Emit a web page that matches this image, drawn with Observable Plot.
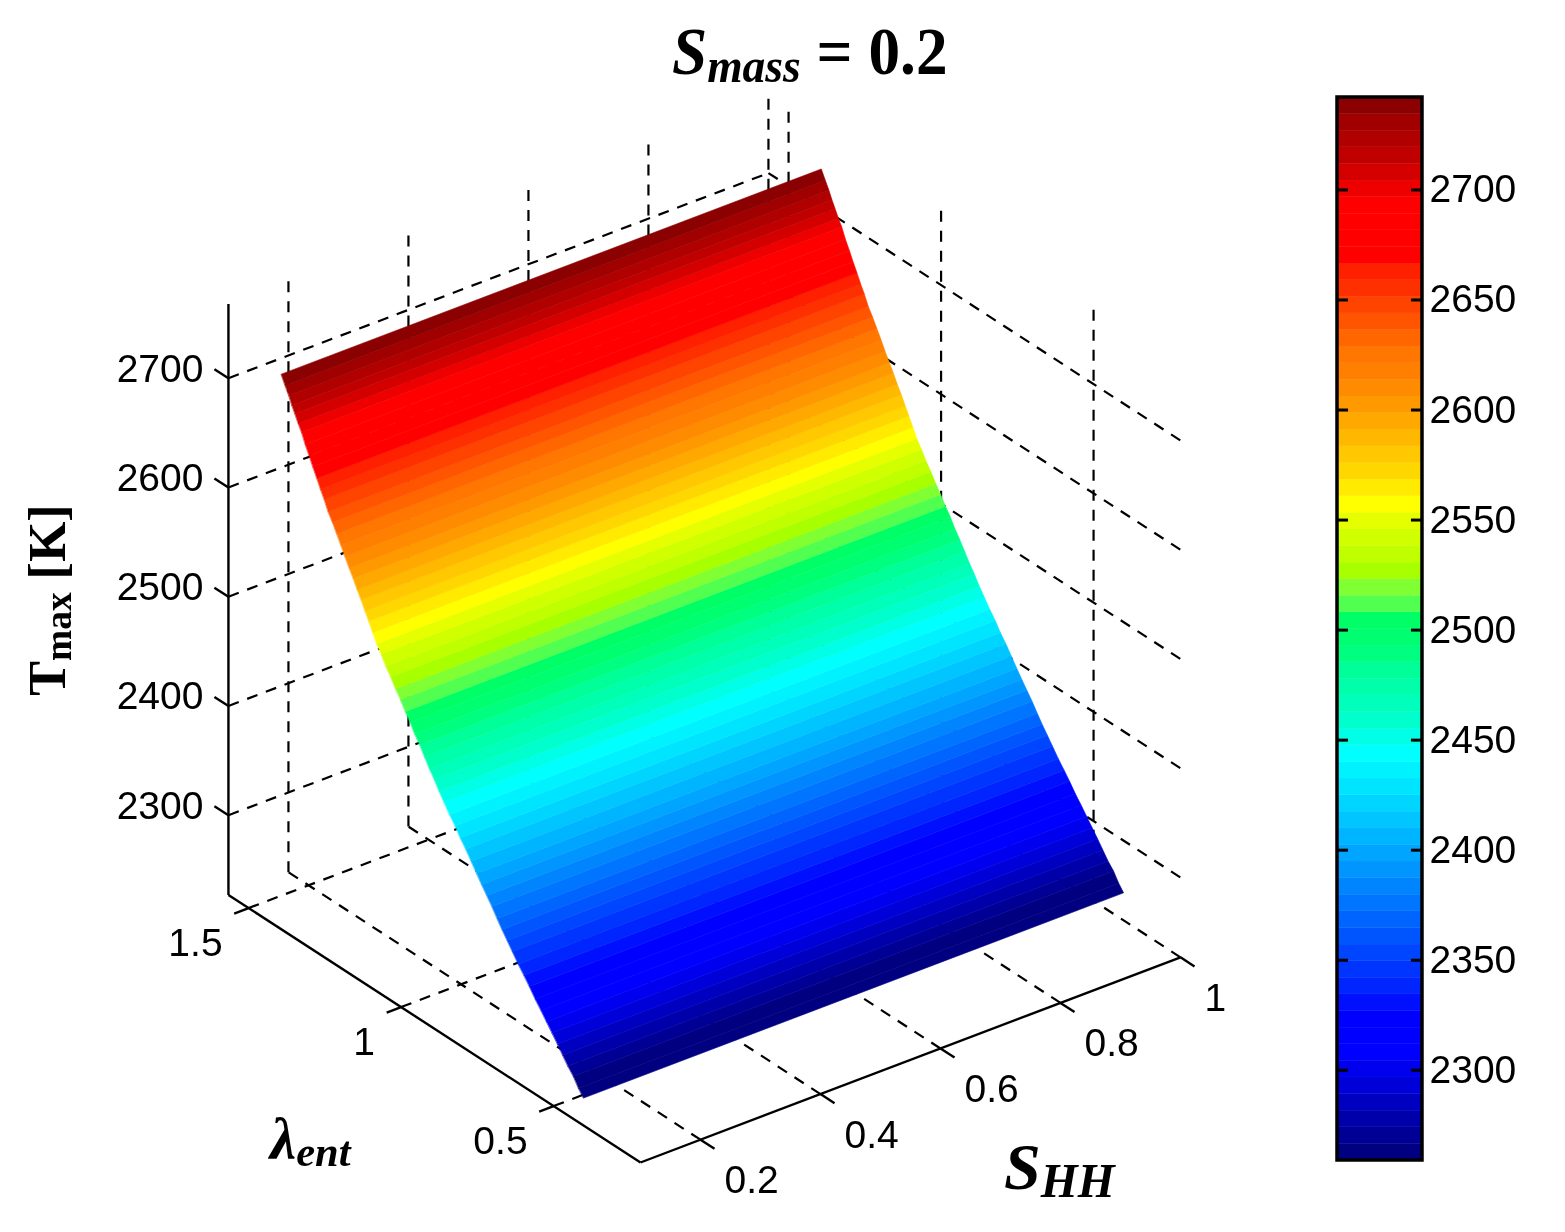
<!DOCTYPE html>
<html>
<head>
<meta charset="utf-8">
<script src="https://cdn.jsdelivr.net/npm/d3@7"></script>
<script src="https://cdn.jsdelivr.net/npm/@observablehq/plot@0.6"></script>
<style>
  html, body { margin: 0; padding: 0; background: #fff; }
  #page { position: relative; width: 1565px; height: 1232px; overflow: hidden; filter: blur(0.45px); }
  #page svg { position: absolute; top: 0; }
  .lab { position: absolute; font-family: "Liberation Serif", serif; font-weight: bold; color: #000; white-space: nowrap; line-height: 1; }
  .lab i { font-style: italic; }
  .lab sub { font-size: 0.72em; vertical-align: baseline; position: relative; top: 0.16em; }
</style>
</head>
<body>
<div id="page">
  <div class="lab" id="title" style="left:672px;top:17px;font-size:68px;transform-origin:left top;transform:scaleX(0.93);"><i>S<sub>mass</sub></i> = 0.2</div>
  <div class="lab" id="ylab" style="left:48px;top:600px;font-size:52px;transform:translate(-50%,-50%) rotate(-90deg);">T<sub>max</sub> [K]</div>
  <div class="lab" id="lam" style="left:270px;top:1110px;font-size:59px;"><i>λ<sub>ent</sub></i></div>
  <div class="lab" id="shh" style="left:1004px;top:1134px;font-size:66px;"><i>S<sub>HH</sub></i></div>
</div>
<script>
// Axis ticks
const sTicks = [0.2, 0.4, 0.6, 0.8, 1];
const lambdaTicks = [0.5, 1, 1.5];
const tTicks = [2300, 2400, 2500, 2600, 2700];
const barTicks = [2300, 2350, 2400, 2450, 2500, 2550, 2600, 2650, 2700];

// Axis box limits
const sRange = [0.1, 1];
const lambdaRange = [0.215, 1.566];
const tRange = [2227, 2768];
const barRange = [2259, 2742];

// Surface: S_HH columns, lambda_ent rows and Tmax at each row (Tmax barely depends on S_HH)
const surfaceS = [0.1, 1];
const surfaceLambda = [
  0.400, 0.416, 0.433, 0.451, 0.468, 0.485, 0.503, 0.521, 0.539, 0.558, 0.577,
  0.595, 0.614, 0.633, 0.650, 0.667, 0.683, 0.700, 0.717, 0.734, 0.750, 0.768,
  0.786, 0.804, 0.821, 0.839, 0.857, 0.873, 0.889, 0.905, 0.921, 0.937, 0.953,
  0.968, 0.984, 1.000, 1.016, 1.032, 1.048, 1.063, 1.078, 1.091, 1.104, 1.116,
  1.129, 1.142, 1.155, 1.168, 1.182, 1.195, 1.209, 1.223, 1.237, 1.250, 1.262,
  1.274, 1.287, 1.299, 1.312, 1.324, 1.335, 1.346, 1.356, 1.366, 1.378, 1.391
];
const surfaceT = [
  2252, 2258, 2266, 2272, 2279, 2286, 2293, 2300, 2307, 2314, 2322,
  2329, 2336, 2344, 2351, 2358, 2365, 2373, 2380, 2387, 2394, 2402,
  2410, 2417, 2425, 2432, 2440, 2447, 2455, 2462, 2470, 2478, 2485,
  2493, 2500, 2508, 2515, 2523, 2530, 2538, 2545, 2553, 2561, 2568,
  2576, 2583, 2591, 2598, 2606, 2614, 2622, 2630, 2637, 2646, 2653,
  2661, 2669, 2677, 2685, 2694, 2700, 2707, 2713, 2720, 2727, 2735
];

// Colormap, bottom band to top band
const colormap = [
  "#000080","#000095","#0000AA","#0000C0","#0000D8","#0000EE","#0000FF","#0000FF",
  "#0000FF","#0010FF","#0025FF","#0035FF","#0045FF","#0055FF","#0065FF","#0075FF",
  "#0085FF","#0095FF","#00A5FF","#00B5FF","#00C5FF","#00D5FF","#00E5FF","#00F2FF",
  "#00FFFF","#00FFE6","#00FFCC","#00FFBB","#00FFAA","#00FF99","#00FF80","#00FF70",
  "#00FF66","#50FF50","#80FF33","#A8FF00","#BFFF00","#D0FF00","#E6FF00","#FFFF00",
  "#FFEA00","#FFD700","#FFC800","#FFB800","#FFA800","#FF9900","#FF8C00","#FF8000",
  "#FF7700","#FF6600","#FF5500","#FF4400","#FF3000","#FF2000","#FF0000","#FF0000",
  "#FF0000","#FF0000","#EE0000","#D40000","#C00000","#B00000","#A00000","#8B0000"
];

const tickFont = "Liberation Sans, Arial, sans-serif";
const tickSize = 39;

const bandStep = (barRange[1] - barRange[0]) / colormap.length;
const bandEdges = d3.range(colormap.length + 1).map(i => barRange[0] + i * bandStep);
const colorScale = { type: "threshold", domain: bandEdges.slice(1, -1), range: colormap };

// Fixed view of the 3D box
const px = (s, l) => 640 + 600 * (s - sRange[0]) - 305 * (l - lambdaRange[0]);
const py = (s, l, t) => 1162 - 228 * (s - sRange[0]) - 198 * (l - lambdaRange[0]) - 1.0925 * (t - tRange[0]);
const seg = (a, b) => ({ x1: px(a[0], a[1]), y1: py(a[0], a[1], a[2]), x2: px(b[0], b[1]), y2: py(b[0], b[1], b[2]) });

const [s0, s1] = sRange, [l0, l1] = lambdaRange, [t0, t1] = tRange;

const grid = [
  ...sTicks.map(s => seg([s, l0, t0], [s, l1, t0])),
  ...sTicks.map(s => seg([s, l1, t0], [s, l1, t1])),
  ...lambdaTicks.map(l => seg([s0, l, t0], [s1, l, t0])),
  ...lambdaTicks.map(l => seg([s1, l, t0], [s1, l, t1])),
  ...tTicks.map(t => seg([s0, l1, t], [s1, l1, t])),
  ...tTicks.map(t => seg([s1, l1, t], [s1, l0, t]))
];
const axes = [
  seg([s0, l0, t0], [s1, l0, t0]),
  seg([s0, l0, t0], [s0, l1, t0]),
  seg([s0, l1, t0], [s0, l1, t1])
];
const ticks = [
  ...sTicks.map(s => seg([s, l0, t0], [s, l0 - 0.046, t0])),
  ...lambdaTicks.map(l => seg([s0, l, t0], [s0 - 0.024, l, t0])),
  ...tTicks.map(t => seg([s0, l1, t], [s0, l1 + 0.046, t]))
];

// One filled strip between two neighbouring lambda rows
const strips = [];
for (let k = 0; k + 1 < surfaceLambda.length; k++) {
  const band = Math.max(0, k - 1);
  for (const s of surfaceS) {
    strips.push({
      k,
      value: (bandEdges[band] + bandEdges[band + 1]) / 2,
      x1: px(s, surfaceLambda[k]), y1: py(s, surfaceLambda[k], surfaceT[k]),
      x2: px(s, surfaceLambda[k + 1]), y2: py(s, surfaceLambda[k + 1], surfaceT[k + 1])
    });
  }
}

const at = (s, l, t) => ({ x: px(s, l), y: py(s, l, t) });

const chart = Plot.plot({
  width: 1565, height: 1232, margin: 0,
  style: { background: "transparent" },
  x: { domain: [0, 1565], range: [0, 1565], axis: null },
  y: { domain: [0, 1232], range: [0, 1232], axis: null },
  color: colorScale,
  marks: [
    Plot.link(grid, { x1: "x1", y1: "y1", x2: "x2", y2: "y2", stroke: "#000", strokeWidth: 2.2, strokeDasharray: "11,9" }),
    Plot.link(axes, { x1: "x1", y1: "y1", x2: "x2", y2: "y2", stroke: "#000", strokeWidth: 2.4 }),
    Plot.link(ticks, { x1: "x1", y1: "y1", x2: "x2", y2: "y2", stroke: "#000", strokeWidth: 2.4 }),
    Plot.area(strips, { x1: "x1", y1: "y1", x2: "x2", y2: "y2", z: "k", fill: "value", stroke: "value", strokeWidth: 0.6 }),
    Plot.text(tTicks.map(t => ({ ...at(s0, l1, t), t: String(t) })), { x: "x", y: "y", text: "t", textAnchor: "end", dx: -25, dy: -9, fontSize: tickSize, fontFamily: tickFont, fill: "#000" }),
    Plot.text(lambdaTicks.map(l => ({ ...at(s0, l, t0), l: String(l) })), { x: "x", y: "y", text: "l", textAnchor: "end", dx: -26, dy: 35, fontSize: tickSize, fontFamily: tickFont, fill: "#000" }),
    Plot.text(sTicks.map(s => ({ ...at(s, l0, t0), s: String(s) })), { x: "x", y: "y", text: "s", textAnchor: "start", dx: 24, dy: 41, fontSize: tickSize, fontFamily: tickFont, fill: "#000" })
  ]
});

const bandRows = colormap.map((c, i) => ({ y1: bandEdges[i], y2: bandEdges[i + 1], value: (bandEdges[i] + bandEdges[i + 1]) / 2 }));
const bar = Plot.plot({
  width: 230, height: 1232, margin: 0,
  style: { background: "transparent", left: "1335px" },
  x: { domain: [0, 1], range: [2, 87], axis: null },
  y: { domain: barRange, range: [1160, 97], axis: null },
  color: colorScale,
  marks: [
    Plot.rect(bandRows, { x1: 0, x2: 1, y1: "y1", y2: "y2", fill: "value", stroke: "value", strokeWidth: 0.4 }),
    Plot.ruleY(barTicks, { x1: 0, x2: 0.13, stroke: "#000", strokeWidth: 3 }),
    Plot.ruleY(barTicks, { x1: 0.87, x2: 1, stroke: "#000", strokeWidth: 3 }),
    Plot.rect([0], { x1: 0, x2: 1, y1: barRange[0], y2: barRange[1], fill: "none", stroke: "#000", strokeWidth: 3.5 }),
    Plot.text(barTicks, { x: 1, y: d => d, text: d => String(d), textAnchor: "start", dx: 7, fontSize: tickSize, fontFamily: tickFont, fill: "#000" })
  ]
});

const page = document.getElementById("page");
page.prepend(bar);
page.prepend(chart);
</script>
</body>
</html>
